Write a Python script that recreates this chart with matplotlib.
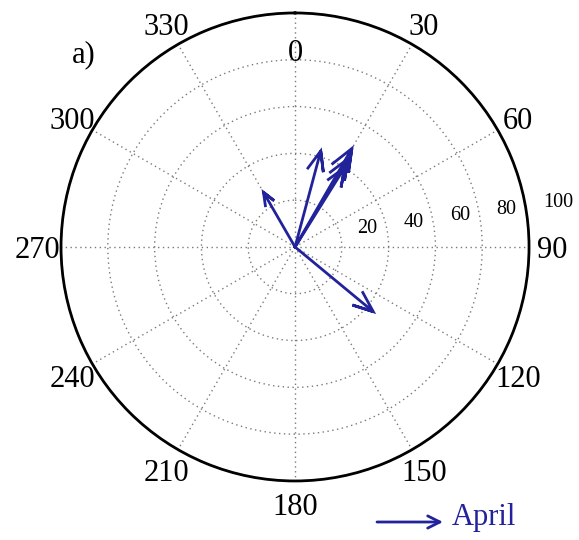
import numpy as np
import matplotlib
matplotlib.use("Agg")
import matplotlib.pyplot as plt

# Wind vectors: direction (degrees clockwise from north) and speed
directions = [330, 15, 30, 31, 32, 129.6]
speeds = [27, 42.5, 48.6, 44, 40, 43.4]

angle_ticks = [0, 30, 60, 90, 120, 150, 180, 210, 240, 270, 300, 330]
ring_values = [20, 40, 60, 80, 100]
series_name = "April"
panel_tag = "a)"

blue = "#22229a"
serif = ["Liberation Serif", "DejaVu Serif"]

W, H = 579, 540
fig = plt.figure(figsize=(W / 100, H / 100), dpi=100)
ax = fig.add_axes([0.1054, 0.1093, 0.8083, 0.8667], projection="polar")
ax.set_theta_zero_location("N")
ax.set_theta_direction(-1)
ax.set_ylim(0, 100)
ax.set_yticks(ring_values[:-1])
ax.set_yticklabels([])
ax.set_xticks(np.deg2rad(angle_ticks))
ax.set_xticklabels([])
ax.tick_params(length=0)
ax.grid(True, color="#7a7a7a", linestyle=(0, (1, 2.5)), linewidth=1)
ax.spines["polar"].set_linewidth(2)
ax.spines["polar"].set_color("black")

# Angular labels just outside the rim (0 sits inside, MATLAB-style)
for a in angle_ticks:
    r = 84 if a == 0 else 110
    ax.text(np.deg2rad(a), r, str(a), ha="center", va="center_baseline",
            fontsize=22, family=serif, clip_on=False)

# Radial labels along the 82 degree ray
for v in ring_values:
    ax.text(np.deg2rad(82), v + 7, str(v), ha="left", va="bottom",
            fontsize=14.5, family=serif, clip_on=False)

# Compass arrows: shaft plus two barbs scaled with arrow length
shape = np.array([0, 1, 0.8 + 0.08j, 1, 0.8 - 0.08j])
for d, s in zip(directions, speeds):
    pts = s * np.exp(1j * np.deg2rad(d)) * shape
    ax.plot(np.angle(pts), np.abs(pts), color=blue, lw=2,
            solid_joinstyle="miter", clip_on=False)

fig.text(72 / W, 1 - 62 / H, panel_tag, fontsize=22, family=serif,
         va="baseline", ha="left")

# Legend entry
y_leg = 1 - 522 / H
ax.annotate("", xy=(443 / W, y_leg), xytext=(377 / W, y_leg),
            xycoords="figure fraction", textcoords="figure fraction",
            arrowprops=dict(arrowstyle="->", color=blue, lw=2,
                            mutation_scale=22, shrinkA=0, shrinkB=0))
fig.text(452 / W, y_leg + 4 / H, series_name, color=blue, fontsize=22,
         family=serif, va="center", ha="left")

fig.savefig("out.png", dpi=100)
